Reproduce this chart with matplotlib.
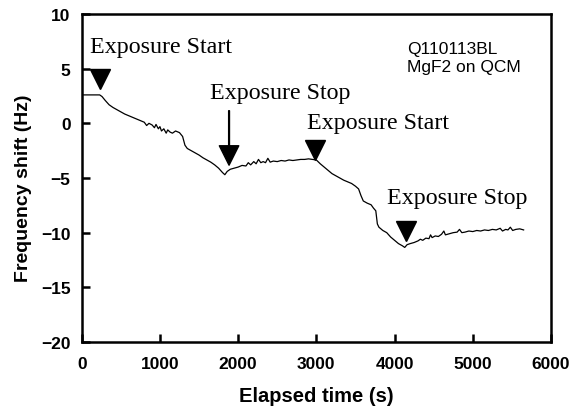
import matplotlib
matplotlib.use("Agg")
import matplotlib.pyplot as plt

time_s = [0, 100, 200, 230, 260, 300, 350, 400, 450, 500, 550, 600, 650, 700, 750, 800,
          830, 860, 900, 930, 950, 980, 1000, 1020, 1050, 1080, 1100, 1130, 1160, 1200,
          1250, 1290, 1320, 1350, 1400, 1450, 1500, 1550, 1600, 1650, 1700, 1750, 1800,
          1830, 1860, 1900, 1950, 2000, 2050, 2100, 2130, 2160, 2200, 2230, 2260, 2290,
          2320, 2350, 2380, 2410, 2450, 2500, 2550, 2600, 2650, 2700, 2750, 2800, 2850,
          2900, 2950, 3000, 3050, 3100, 3150, 3200, 3250, 3300, 3350, 3400, 3450, 3500,
          3540, 3570, 3600, 3650, 3700, 3730, 3760, 3780, 3800, 3850, 3900, 3950, 4000,
          4050, 4100, 4130, 4160, 4200, 4250, 4300, 4330, 4360, 4400, 4440, 4460, 4480,
          4520, 4560, 4600, 4630, 4650, 4700, 4750, 4800, 4830, 4860, 4900, 4950, 5000,
          5050, 5100, 5150, 5200, 5250, 5300, 5350, 5380, 5420, 5450, 5480, 5510, 5550,
          5600, 5650]
freq_hz = [2.6, 2.6, 2.6, 2.6, 2.45, 2.1, 1.7, 1.45, 1.25, 1.05, 0.85, 0.7, 0.55, 0.4, 0.25, 0.1,
           -0.2, 0.0, -0.15, -0.4, -0.1, -0.5, -0.3, -0.7, -0.5, -0.9, -0.6, -0.8, -0.9, -0.7,
           -0.85, -1.2, -2.0, -2.3, -2.5, -2.7, -2.9, -3.15, -3.35, -3.55, -3.8, -4.1, -4.5,
           -4.7, -4.4, -4.2, -4.1, -4.0, -3.85, -3.9, -3.6, -3.8, -3.5, -3.7, -3.3, -3.6,
           -3.5, -3.6, -3.2, -3.55, -3.45, -3.5, -3.4, -3.45, -3.35, -3.4, -3.35, -3.3, -3.3,
           -3.25, -3.3, -3.35, -3.7, -4.0, -4.3, -4.6, -4.8, -5.0, -5.2, -5.35, -5.5, -5.75,
           -6.0, -6.6, -7.1, -7.3, -7.45, -7.75, -8.0, -9.2, -9.5, -9.8, -10.0, -10.4, -10.7,
           -11.0, -11.2, -11.35, -11.1, -11.0, -10.9, -10.75, -10.6, -10.7, -10.5, -10.55, -10.2, -10.45,
           -10.3, -10.35, -10.15, -9.85, -10.2, -10.1, -10.0, -9.95, -9.7, -10.0, -9.95, -9.85, -9.9,
           -9.8, -9.85, -9.75, -9.8, -9.7, -9.75, -9.6, -9.85, -9.7, -9.75, -9.5, -9.8, -9.7,
           -9.65, -9.75]

marker_t = [234, 2983, 4147]
marker_v = [4.05, -2.43, -9.87]
arrow_t = 1884
arrow_from_v = 1.15
arrow_to_v = -3.83

labels = ["Exposure Start", "Exposure Stop", "Exposure Start", "Exposure Stop"]
label_t = [106, 1643, 2877, 3900]
label_v = [7.07, 2.84, 0.09, -6.77]

note_lines = ["Q110113BL", "MgF2 on QCM"]
note_t = 4160
note_v = [6.89, 5.24]

x_ticks = [0, 1000, 2000, 3000, 4000, 5000, 6000]
y_ticks = [-20, -15, -10, -5, 0, 5, 10]

fig = plt.figure(figsize=(5.78, 4.10), dpi=100)
ax = fig.add_axes([81.7/578, 1 - 343/410, (551 - 81.7)/578, (343 - 15)/410])

ax.plot(time_s, freq_hz, color="black", lw=0.9)
ax.plot(marker_t, marker_v, linestyle="none", marker="v", markersize=14, color="black")
ax.annotate("", xy=(arrow_t, arrow_to_v), xytext=(arrow_t, arrow_from_v),
            arrowprops=dict(facecolor="black", edgecolor="black", width=0.6,
                            headwidth=14, headlength=14, shrink=0))

for s, t, v in zip(labels, label_t, label_v):
    ax.text(t, v, s, family="Liberation Serif", fontsize=17.3, va="center", ha="left")

for s, v in zip(note_lines, note_v):
    ax.text(note_t, v, s, family="Liberation Sans", fontsize=12.5, va="center")

ax.set_xlim(0, 6000)
ax.set_ylim(-20, 10)
ax.set_xticks(x_ticks)
ax.set_yticks(y_ticks)
ax.tick_params(direction="in", length=6, width=1.8, labelsize=12.5)
ax.tick_params(axis="x", pad=10)
ax.tick_params(axis="y", pad=8)
for lab in ax.get_xticklabels() + ax.get_yticklabels():
    lab.set_fontweight("bold")
    lab.set_family("Liberation Sans")
for sp in ax.spines.values():
    sp.set_linewidth(1.8)

ax.set_xlabel("Elapsed time (s)", family="Liberation Sans", fontweight="bold", fontsize=14.5)
ax.set_ylabel("Frequency shift (Hz)", family="Liberation Sans", fontweight="bold", fontsize=14)
ax.xaxis.set_label_coords(0.5, -(397 - 343) / 328)
ax.xaxis.label.set_va("center")
ax.yaxis.set_label_coords(-(81.7 - 24) / 469.3, (343 - 188) / 328)
ax.yaxis.label.set_va("center")

fig.savefig("out.png", dpi=100)
